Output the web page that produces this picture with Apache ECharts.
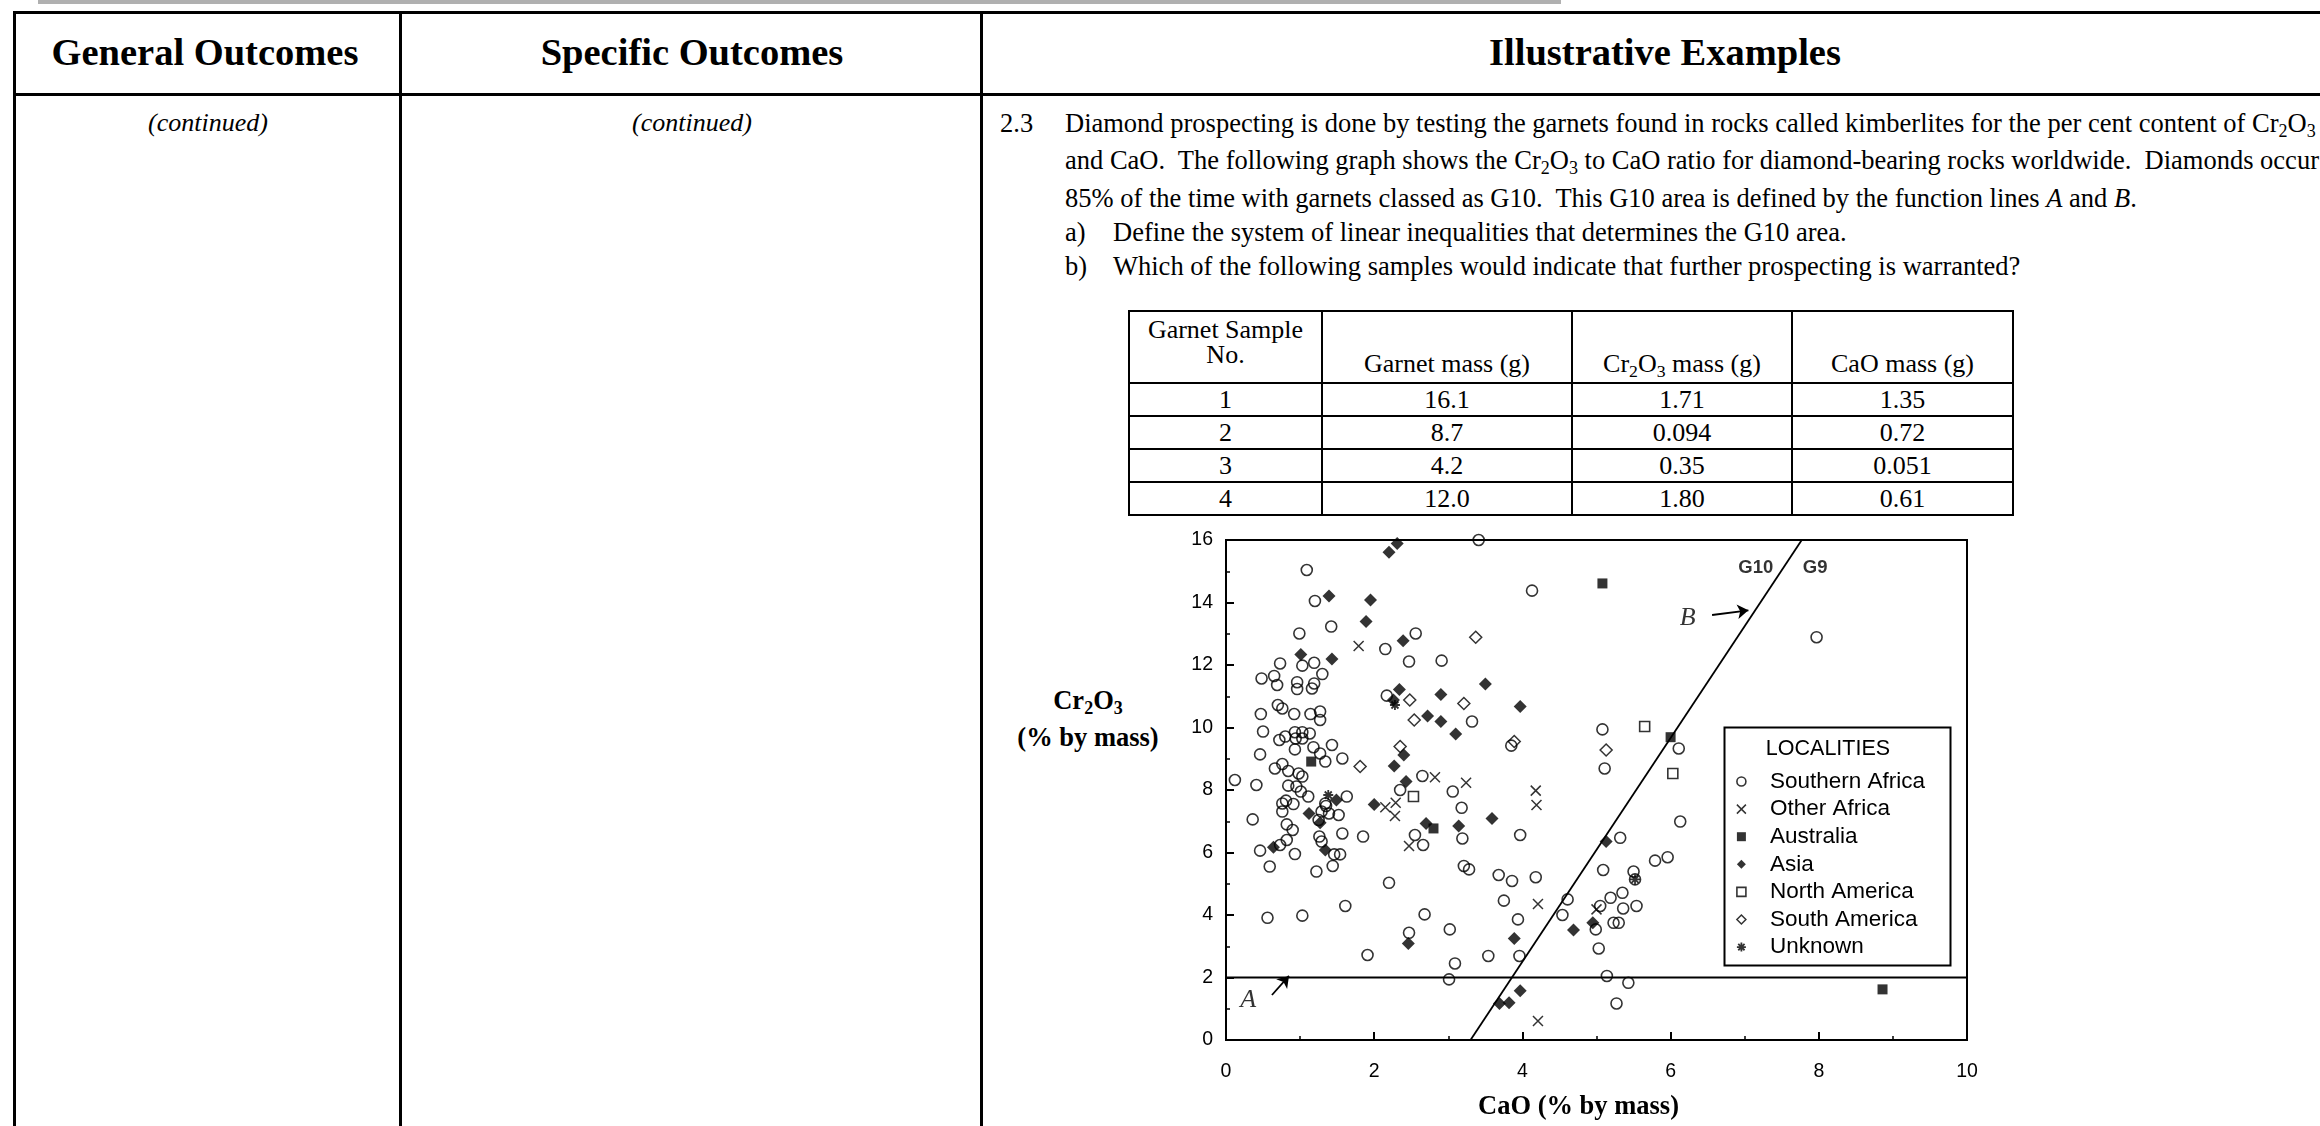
<!DOCTYPE html>
<html><head><meta charset="utf-8">
<script src="https://cdn.jsdelivr.net/npm/echarts@6/dist/echarts.min.js"></script>
<style>
html,body{margin:0;padding:0;background:#fff;}
body{width:2320px;height:1126px;overflow:hidden;position:relative;font-family:"Liberation Serif","Times New Roman",serif;color:#000;}
.t{position:absolute;white-space:pre;line-height:30px;font-size:26.5px;}
.c{position:absolute;white-space:pre;transform:translate(-50%,-50%);}
.hl{position:absolute;background:#000;height:3px;}
.vl{position:absolute;background:#000;width:3px;}
sub{font-size:0.68em;vertical-align:-0.28em;line-height:0;}
#dt{position:absolute;left:1128px;top:310px;border-collapse:collapse;table-layout:fixed;font-size:26px;}
#dt td{border:2px solid #000;text-align:center;padding:0;line-height:27px;}
#dt td.hb{vertical-align:bottom;padding-bottom:5px;}
#chart{position:absolute;left:985px;top:525px;width:1335px;height:601px;}
</style></head><body>
<div style="position:absolute;left:38px;top:0;width:1523px;height:4px;background:#b0b0b0"></div>
<div class="hl" style="left:13px;top:11px;width:2320px"></div>
<div class="hl" style="left:13px;top:93px;width:2320px"></div>
<div class="vl" style="left:13px;top:11px;height:1200px"></div>
<div class="vl" style="left:399px;top:11px;height:1200px"></div>
<div class="vl" style="left:980px;top:11px;height:1200px"></div>

<div class="c" style="left:205px;top:52px;font-size:38.5px;font-weight:bold">General Outcomes</div>
<div class="c" style="left:692px;top:52px;font-size:38.5px;font-weight:bold">Specific Outcomes</div>
<div class="c" style="left:1665px;top:52px;font-size:38.5px;font-weight:bold">Illustrative Examples</div>
<div class="c" style="left:208px;top:123px;font-size:26px;font-style:italic">(continued)</div>
<div class="c" style="left:692px;top:123px;font-size:26px;font-style:italic">(continued)</div>

<div class="t" style="left:1000px;top:108px">2.3</div>
<div class="t" style="left:1065px;top:108px">Diamond prospecting is done by testing the garnets found in rocks called kimberlites for the per cent content of Cr<sub>2</sub>O<sub>3</sub></div>
<div class="t" style="left:1065px;top:145px">and CaO.  The following graph shows the Cr<sub>2</sub>O<sub>3</sub> to CaO ratio for diamond-bearing rocks worldwide.  Diamonds occur</div>
<div class="t" style="left:1065px;top:183px">85% of the time with garnets classed as G10.  This G10 area is defined by the function lines <i>A</i> and <i>B</i>.</div>
<div class="t" style="left:1065px;top:217px">a)</div>
<div class="t" style="left:1113px;top:217px">Define the system of linear inequalities that determines the G10 area.</div>
<div class="t" style="left:1065px;top:251px">b)</div>
<div class="t" style="left:1113px;top:251px">Which of the following samples would indicate that further prospecting is warranted?</div>

<table id="dt">
<colgroup><col style="width:193px"><col style="width:250px"><col style="width:220px"><col style="width:221px"></colgroup>
<tbody id="dtbody"></tbody>
</table>

<div class="c" style="left:1088px;top:700px;font-size:26.5px;font-weight:bold">Cr<sub>2</sub>O<sub>3</sub></div>
<div class="c" style="left:1088px;top:737px;font-size:26.5px;font-weight:bold">(% by mass)</div>

<div id="chart"></div>
<script>
// ---- sample table ----
const sampleNo = ['1','2','3','4'];
const garnetMass = ['16.1','8.7','4.2','12.0'];
const cr2o3Mass = ['1.71','0.094','0.35','1.80'];
const caoMass = ['1.35','0.72','0.051','0.61'];

// ---- chart data: [CaO %, Cr2O3 %] ----
const southernAfrica = [
[3.41,16.0],[1.09,15.04],[4.13,14.38],[1.20,14.05],[1.42,13.23],[0.99,13.01],[2.56,13.01],[2.15,12.51],[0.73,12.05],[1.03,11.98],
[1.19,12.07],[2.47,12.11],[2.91,12.14],[0.48,11.57],[0.65,11.65],[0.69,11.36],[1.30,11.71],[0.96,11.45],[0.96,11.23],[1.16,11.25],
[1.19,11.41],[2.17,11.02],[0.70,10.72],[0.76,10.61],[0.47,10.43],[0.92,10.43],[1.14,10.43],[1.27,10.51],[1.27,10.24],[3.32,10.19],
[0.50,9.87],[0.72,9.60],[0.80,9.71],[0.93,9.85],[1.03,9.85],[0.94,9.65],[1.03,9.65],[1.13,9.81],[0.93,9.30],[1.18,9.37],
[1.27,9.17],[1.43,9.44],[0.46,9.14],[1.34,8.91],[1.57,9.01],[0.66,8.69],[0.76,8.83],[0.84,8.61],[0.98,8.53],[1.03,8.43],
[0.12,8.32],[0.41,8.16],[0.84,8.14],[0.95,8.11],[1.01,7.95],[1.11,7.79],[1.63,7.79],[2.65,8.45],[3.06,7.95],[2.35,8.00],
[3.18,7.43],[0.76,7.57],[0.81,7.66],[0.91,7.55],[0.76,7.31],[1.34,7.57],[1.35,7.49],[1.29,7.31],[1.39,7.25],[1.52,7.20],
[0.36,7.06],[1.25,7.04],[0.82,6.90],[0.90,6.72],[1.57,6.61],[1.85,6.51],[2.55,6.56],[3.19,6.45],[3.97,6.56],[3.85,9.42],
[0.46,6.06],[0.73,6.24],[0.82,6.40],[0.93,5.95],[0.59,5.55],[1.22,5.39],[1.44,5.57],[1.26,6.51],[1.29,6.35],[1.46,5.94],
[1.54,5.94],[2.66,6.24],[3.21,5.57],[3.28,5.46],[2.20,5.03],[3.68,5.28],[3.86,5.09],[4.18,5.21],[3.75,4.46],[3.94,3.86],
[0.56,3.91],[1.03,3.98],[1.61,4.29],[2.68,4.02],[2.47,3.43],[3.02,3.54],[3.54,2.69],[3.96,2.69],[3.09,2.45],[1.91,2.72],
[3.01,1.94],[4.61,4.50],[4.54,4.00],
[7.97,12.89],[5.08,9.94],[5.11,8.69],[6.11,9.33],[6.13,6.99],[5.32,6.47],[5.09,5.44],[5.79,5.74],[5.96,5.85],[5.50,5.39],
[5.52,5.14],[5.19,4.55],[5.35,4.71],[5.36,4.21],[5.54,4.29],[5.05,4.29],[4.99,3.54],[5.23,3.75],[5.30,3.75],[5.03,2.93],
[5.14,2.05],[5.43,1.83],[5.27,1.17]
];
const otherAfrica = [[1.79,12.61],[2.82,8.41],[3.24,8.23],[2.15,7.45],[2.29,7.59],[2.28,7.17],[4.18,7.98],[4.19,7.52],[2.47,6.21],[4.21,4.35],[4.21,0.61],[5.0,4.18]];
const australia = [[1.15,8.91],[2.80,6.77],[5.08,14.61],[6.0,9.69],[8.86,1.62]];
const asia = [[2.20,15.61],[2.31,15.89],[1.39,14.21],[1.95,14.08],[1.89,13.39],[2.39,12.78],[1.01,12.34],[1.43,12.19],[2.34,11.22],[2.90,11.06],
[3.50,11.39],[2.72,10.37],[2.90,10.19],[3.10,9.79],[3.97,10.67],[2.26,10.88],[2.40,9.12],[2.27,8.77],[2.43,8.27],[2.00,7.54],
[1.49,7.68],[1.12,7.25],[1.27,6.95],[2.70,6.93],[3.14,6.85],[3.59,7.09],[0.64,6.17],[1.34,6.08],[2.46,3.09],[3.89,3.25],
[3.97,1.58],[3.69,1.17],[3.82,1.19],[4.69,3.52],[4.95,3.75],[5.13,6.35]];
const northAmerica = [[2.53,7.79],[5.65,10.03],[6.03,8.53]];
const southAmerica = [[3.37,12.89],[2.48,10.88],[2.54,10.24],[3.21,10.77],[2.35,9.39],[1.81,8.75],[3.89,9.55],[5.13,9.28]];
const unknown = [[1.38,7.84],[2.28,10.72],[5.52,5.14]];

// function lines and annotations
const lineA = [[0,2],[10,2]];
const lineB = [[3.3,0],[7.77,16]];
const arrowA = [[0.62,1.44],[0.85,2.05]];
const arrowB = [[6.56,13.6],[7.05,13.75]];
const lineLabels = [{name:'A',value:[0.3,1.28]},{name:'B',value:[6.23,13.5]}];
const zoneLabels = [{name:'G10',value:[7.15,15.1]},{name:'G9',value:[7.95,15.1]}];
const xTickLabels = ['0','2','4','6','8','10'];
const yTickLabels = ['0','2','4','6','8','10','12','14','16'];

// build table
const tb = document.getElementById('dtbody');
let html = '<tr style="height:72px"><td style="vertical-align:top;padding-top:5px;line-height:25px">Garnet Sample<br>No.</td>'+
 '<td class="hb">Garnet mass (g)</td><td class="hb">Cr<sub>2</sub>O<sub>3</sub> mass (g)</td><td class="hb">CaO mass (g)</td></tr>';
for (let i=0;i<sampleNo.length;i++){
  html += '<tr style="height:33px"><td>'+sampleNo[i]+'</td><td>'+garnetMass[i]+'</td><td>'+cr2o3Mass[i]+'</td><td>'+caoMass[i]+'</td></tr>';
}
tb.innerHTML = html;

const chart = echarts.init(document.getElementById('chart'));
const BLK = '#000';
const xPath = 'path://M0,0L10,10M10,0L0,10';
const starPath = 'path://M5,0L5,10M0,5L10,5M1.5,1.5L8.5,8.5M8.5,1.5L1.5,8.5';
const styles = {
  'Southern Africa': {symbol:'circle', size:11, item:{color:'rgba(0,0,0,0)', borderColor:BLK, borderWidth:1.6}},
  'Other Africa': {symbol:xPath, size:10, item:{color:'rgba(0,0,0,0)', borderColor:BLK, borderWidth:1.5}},
  'Australia': {symbol:'rect', size:10, item:{color:BLK, borderColor:BLK, borderWidth:0}},
  'Asia': {symbol:'diamond', size:13, item:{color:BLK, borderColor:BLK, borderWidth:0}},
  'North America': {symbol:'rect', size:10, item:{color:'rgba(0,0,0,0)', borderColor:BLK, borderWidth:1.6}},
  'South America': {symbol:'diamond', size:12, item:{color:'rgba(0,0,0,0)', borderColor:BLK, borderWidth:1.5}},
  'Unknown': {symbol:starPath, size:10, item:{color:'rgba(0,0,0,0)', borderColor:BLK, borderWidth:1.8}}
};
const seriesData = {
  'Southern Africa': southernAfrica, 'Other Africa': otherAfrica, 'Australia': australia, 'Asia': asia,
  'North America': northAmerica, 'South America': southAmerica, 'Unknown': unknown
};
const names = Object.keys(styles);
const scatterSeries = names.map(n => ({
  name:n, type:'scatter', data:seriesData[n], symbol:styles[n].symbol, symbolSize:styles[n].size,
  itemStyle:styles[n].item, z:5, silent:true
}));
const legendData = names.map(n => ({name:n, icon:styles[n].symbol, itemStyle:styles[n].item}));

const axisCommon = {
  type:'value', splitLine:{show:false},
  axisLine:{show:true, lineStyle:{color:BLK, width:2}},
  axisTick:{show:true, inside:true, length:8, lineStyle:{color:BLK, width:2}},
  minorTick:{show:true, splitNumber:2, length:4, lineStyle:{color:BLK, width:1.5}},
};

chart.setOption({
  animation:false,
  grid:{left:241, top:15, width:741, height:500, show:true, borderColor:BLK, borderWidth:2, backgroundColor:'rgba(0,0,0,0)'},
  xAxis:Object.assign({}, axisCommon, {
    min:0, max:10, interval:2,
    axisLabel:{fontSize:19.5, color:BLK, margin:22, fontFamily:'Liberation Sans', formatter:(v)=>xTickLabels[v/2]},
    name:'CaO (% by mass)', nameLocation:'middle', nameGap:54,
    nameTextStyle:{fontFamily:'Liberation Serif', fontWeight:'bold', fontSize:26.5, color:BLK, padding:[0,36,0,0]}
  }),
  yAxis:Object.assign({}, axisCommon, {
    min:0, max:16, interval:2,
    axisLabel:{fontSize:19.5, color:BLK, margin:13, fontFamily:'Liberation Sans', formatter:(v)=>yTickLabels[v/2]}
  }),
  legend:{
    data:legendData, orient:'vertical', left:746, top:240, itemWidth:9, itemHeight:9, itemGap:4.6,
    selectedMode:false, symbolKeepAspect:true,
    textStyle:{fontFamily:'Liberation Sans', fontSize:22.5, color:BLK, lineHeight:20, padding:[0,0,0,19]}
  },
  graphic:[
    {type:'rect', left:737, top:200, shape:{width:226, height:238}, style:{fill:'none', stroke:BLK, lineWidth:2}, z:10},
    {type:'text', x:843, y:224, style:{text:'LOCALITIES', font:'21.5px "Liberation Sans"', fill:BLK, align:'center', verticalAlign:'middle'}, z:10}
  ],
  series:[
    {type:'line', name:'lineA', data:lineA, symbol:'none', lineStyle:{color:BLK, width:1.8}, silent:true, z:3,
     markLine:{silent:true, symbol:['none','arrow'], symbolSize:11, label:{show:false},
       lineStyle:{type:'solid', color:BLK, width:1.8},
       data:[[{coord:arrowA[0]},{coord:arrowA[1]}]]}},
    {type:'line', name:'lineB', data:lineB, symbol:'none', lineStyle:{color:BLK, width:1.8}, silent:true, z:3,
     markLine:{silent:true, symbol:['none','arrow'], symbolSize:11, label:{show:false},
       lineStyle:{type:'solid', color:BLK, width:1.8},
       data:[[{coord:arrowB[0]},{coord:arrowB[1]}]]}},
    {type:'scatter', name:'lineLabels', data:lineLabels, symbolSize:1, itemStyle:{color:'rgba(0,0,0,0)'}, silent:true,
     label:{show:true, position:'inside', formatter:'{b}', fontFamily:'Liberation Serif', fontStyle:'italic', fontSize:26, color:BLK}},
    {type:'scatter', name:'zoneLabels', data:zoneLabels, symbolSize:1, itemStyle:{color:'rgba(0,0,0,0)'}, silent:true,
     label:{show:true, position:'inside', formatter:'{b}', fontFamily:'Liberation Sans', fontWeight:'bold', fontSize:18.5, color:BLK}}
  ].concat(scatterSeries)
});
</script>
</body></html>
